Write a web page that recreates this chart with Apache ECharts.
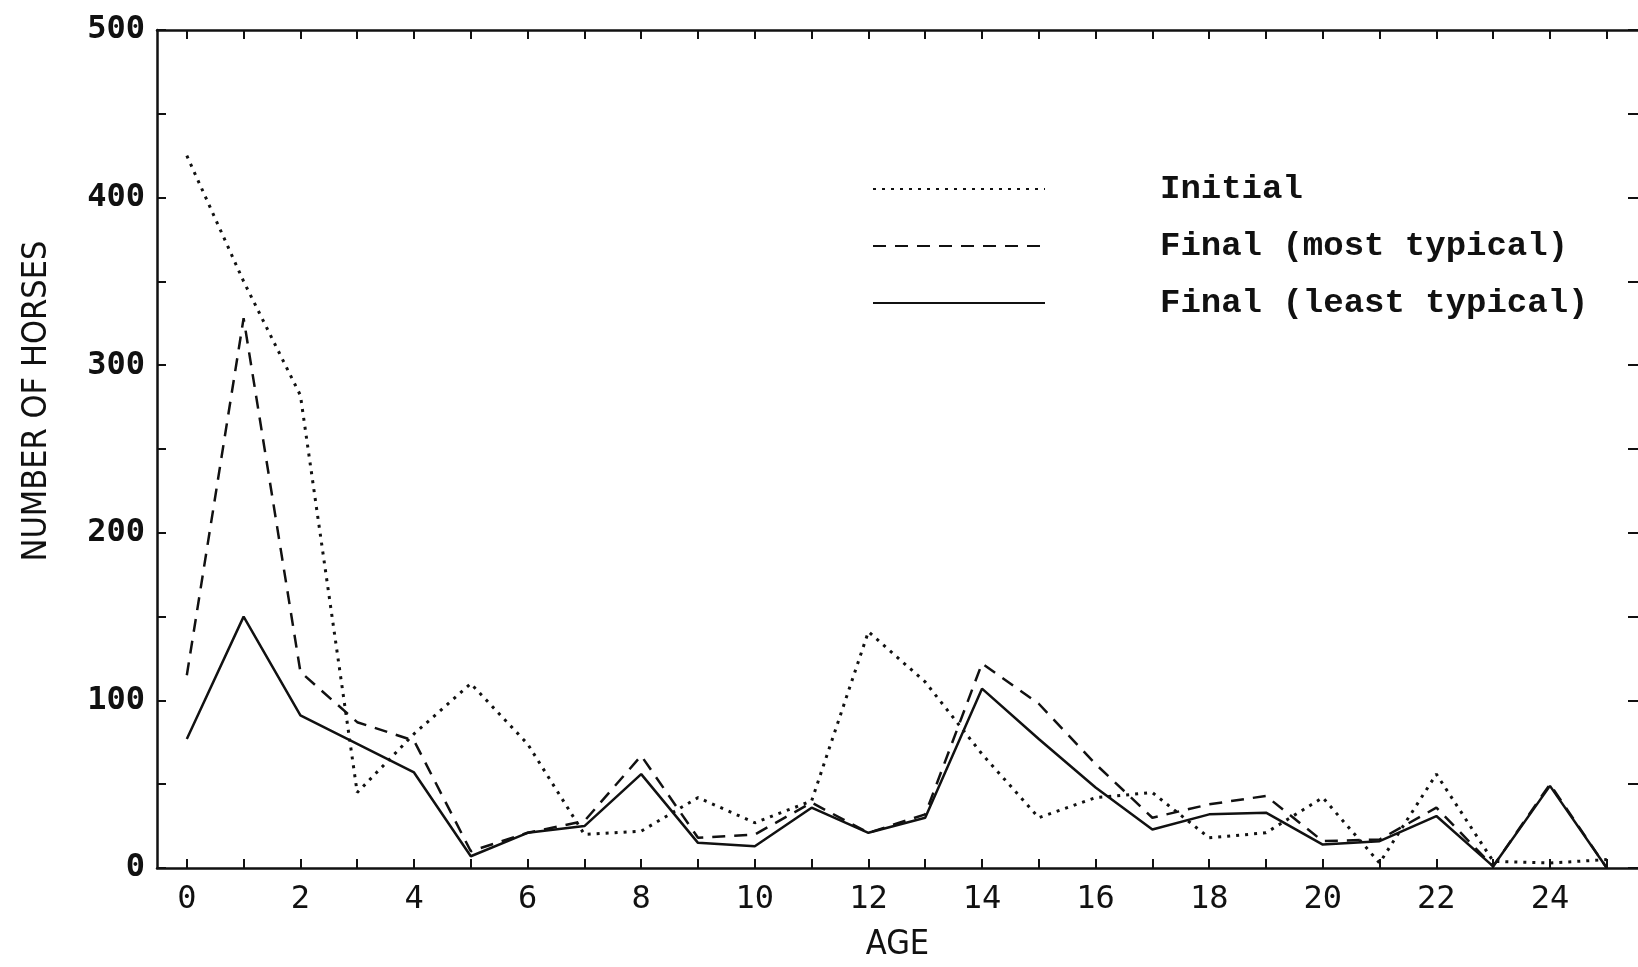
<!DOCTYPE html>
<html>
<head>
<meta charset="utf-8">
<script src="https://cdn.jsdelivr.net/npm/echarts@6/dist/echarts.min.js"></script>
<style>
  html, body { margin: 0; padding: 0; background: #fff; }
  #main { width: 1638px; height: 967px; }
</style>
</head>
<body>
<div id="main"></div>
<script>
// ages along the x axis
var ages = [0, 1, 2, 3, 4, 5, 6, 7, 8, 9, 10, 11, 12, 13, 14, 15, 16, 17, 18, 19, 20, 21, 22, 23, 24, 25];

// number of horses per age
var initial = [425, 350, 282, 45, 80, 110, 74, 20, 22, 42, 27, 40, 141, 111, 68, 30, 42, 45, 18, 21, 42, 3, 56, 4, 3, 5];
var finalMost = [115, 328, 117, 87, 76, 10, 21, 28, 67, 18, 20, 39, 21, 32, 122, 98, 62, 30, 38, 43, 16, 17, 36, 1, 50, 0];
var finalLeast = [77, 150, 91, 74, 57, 7, 21, 25, 56, 15, 13, 36, 21, 30, 107, 77, 48, 23, 32, 33, 14, 16, 31, 1, 49, 0];

// ticks and labels
var xTicks = ages;
var xTickLabels = [0, 2, 4, 6, 8, 10, 12, 14, 16, 18, 20, 22, 24];
var yTicks = [0, 50, 100, 150, 200, 250, 300, 350, 400, 450, 500];
var yTickLabels = [0, 100, 200, 300, 400, 500];

var seriesNames = ['Initial', 'Final (most typical)', 'Final (least typical)'];

function pairs(vals) {
  return ages.map(function (a, i) { return [a, vals[i]]; });
}

var chart = echarts.init(document.getElementById('main'), null, { renderer: 'canvas' });

var axisLine = { show: true, onZero: false, lineStyle: { color: '#111', width: 2.5 } };
var tickStyle = { color: '#111', width: 2 };

var option = {
  backgroundColor: '#fff',
  animation: false,
  grid: { left: 157, right: -6, top: 30, bottom: 94, containLabel: false },
  legend: {
    orient: 'vertical',
    left: 867,
    top: 167,
    itemWidth: 172,
    itemHeight: 14,
    itemGap: 23,
    data: seriesNames,
    itemStyle: { opacity: 0 },
    textStyle: {
      fontFamily: '"Liberation Mono", "DejaVu Sans Mono", monospace',
      fontWeight: 'bold',
      fontSize: 34,
      lineHeight: 34,
      color: '#111',
      padding: [0, 0, 0, 110]
    }
  },
  xAxis: [
    {
      type: 'value',
      position: 'bottom',
      min: -0.525,
      max: 25.55,
      axisLine: axisLine,
      splitLine: { show: false },
      axisTick: { show: true, inside: true, length: 9, lineStyle: tickStyle, customValues: xTicks },
      axisLabel: {
        customValues: xTickLabels,
        margin: 16,
        fontFamily: '"DejaVu Sans Mono", monospace',
        fontSize: 32,
        color: '#111'
      },
      name: 'AGE',
      nameLocation: 'middle',
      nameGap: 60,
      nameTextStyle: {
        fontFamily: '"DejaVu Sans Condensed", "Liberation Sans Narrow", "DejaVu Sans", sans-serif',
        fontSize: 34,
        color: '#111'
      }
    },
    {
      type: 'value',
      position: 'top',
      min: -0.525,
      max: 25.55,
      axisLine: axisLine,
      splitLine: { show: false },
      axisTick: { show: true, inside: true, length: 9, lineStyle: tickStyle, customValues: xTicks },
      axisLabel: { show: false }
    }
  ],
  yAxis: [
    {
      type: 'value',
      position: 'left',
      min: 0,
      max: 500,
      interval: 50,
      axisLine: axisLine,
      splitLine: { show: false },
      axisTick: { show: true, inside: true, length: 9, lineStyle: tickStyle, customValues: yTicks },
      axisLabel: {
        customValues: yTickLabels,
        margin: 12,
        fontFamily: '"DejaVu Sans Mono", monospace',
        fontWeight: 'bold',
        fontSize: 32,
        color: '#111'
      }
    },
    {
      type: 'value',
      position: 'right',
      min: 0,
      max: 500,
      interval: 50,
      axisLine: { show: false, onZero: false },
      splitLine: { show: false },
      axisTick: { show: true, inside: true, length: 10, lineStyle: tickStyle, customValues: yTicks },
      axisLabel: { show: false }
    }
  ],
  graphic: [
    {
      type: 'text',
      x: 37,
      y: 401,
      rotation: Math.PI / 2,
      style: {
        text: 'NUMBER OF HORSES',
        fontFamily: '"DejaVu Sans Condensed", "Liberation Sans Narrow", "DejaVu Sans", sans-serif',
        fontSize: 34,
        fill: '#111',
        align: 'center',
        verticalAlign: 'middle'
      }
    }
  ],
  series: [
    {
      name: seriesNames[0],
      type: 'line',
      data: pairs(initial),
      symbol: 'none',
      color: '#111',
      lineStyle: { color: '#111', width: 3, type: [3, 6] }
    },
    {
      name: seriesNames[1],
      type: 'line',
      data: pairs(finalMost),
      symbol: 'none',
      color: '#111',
      lineStyle: { color: '#111', width: 2.5, type: [13, 9] }
    },
    {
      name: seriesNames[2],
      type: 'line',
      data: pairs(finalLeast),
      symbol: 'none',
      color: '#111',
      lineStyle: { color: '#111', width: 2.5, type: 'solid' }
    }
  ]
};

chart.setOption(option);
</script>
</body>
</html>
